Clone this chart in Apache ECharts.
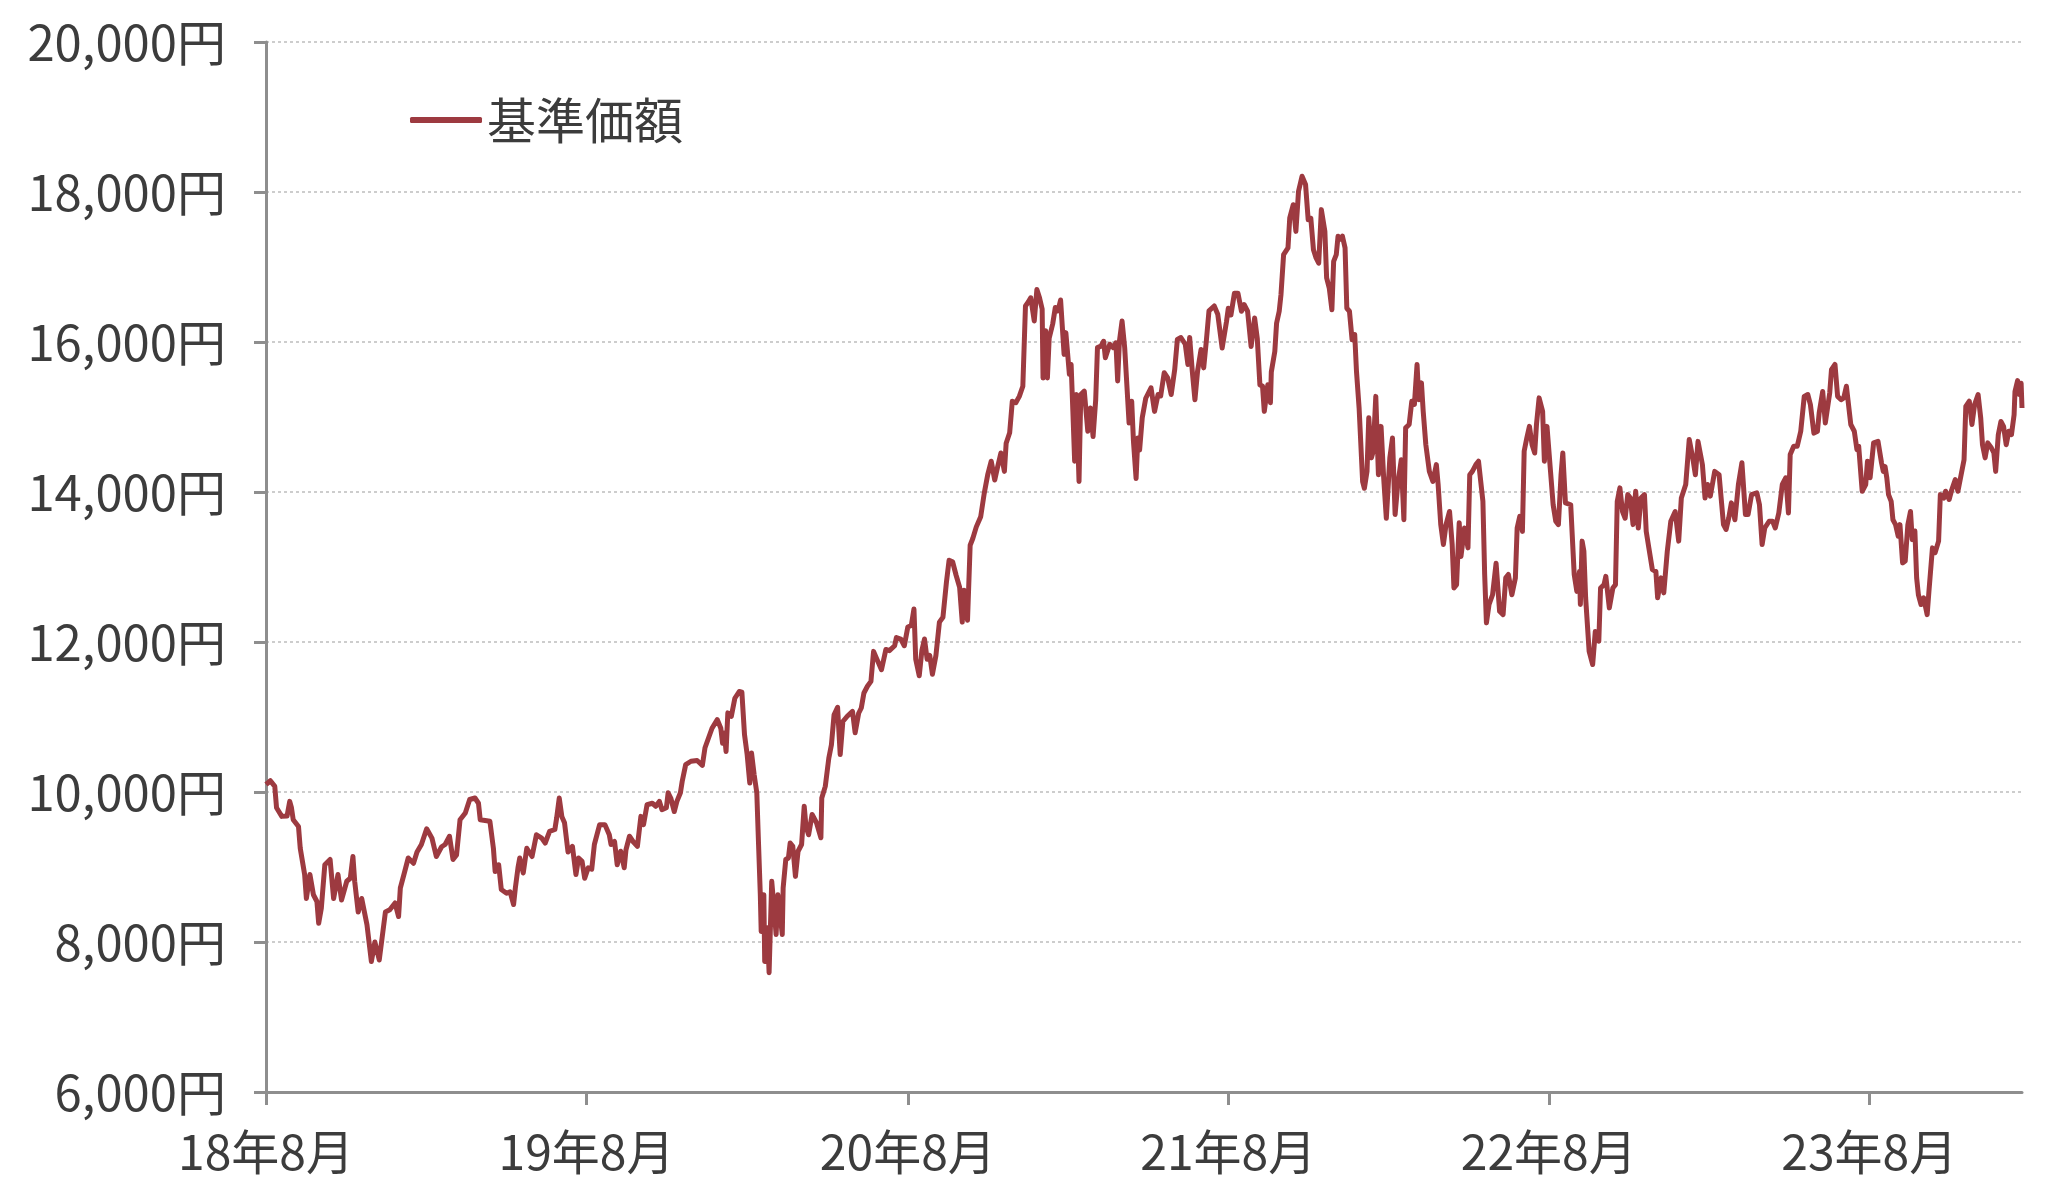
<!DOCTYPE html>
<html><head><meta charset="utf-8">
<script src="https://cdn.jsdelivr.net/npm/echarts@6/dist/echarts.min.js"></script>
<style>html,body{margin:0;padding:0;background:#fff}#c{width:2048px;height:1204px}</style>
</head><body><div id="c"></div>
<script>
const seriesName = '基準価額';
const dates = [
'2018-08-01','2018-08-06','2018-08-11','2018-08-13','2018-08-19','2018-08-25','2018-08-28','2018-08-30','2018-09-01','2018-09-07','2018-09-09','2018-09-14','2018-09-16','2018-09-20','2018-09-24','2018-09-28','2018-09-30','2018-10-03','2018-10-07','2018-10-13','2018-10-17','2018-10-22','2018-10-26','2018-11-01','2018-11-05','2018-11-08','2018-11-10','2018-11-14','2018-11-18','2018-11-24','2018-11-29','2018-12-03','2018-12-08','2018-12-15','2018-12-20','2018-12-26','2018-12-30',
'2019-01-01','2019-01-06','2019-01-10','2019-01-16','2019-01-20','2019-01-25','2019-01-31','2019-02-06','2019-02-11','2019-02-17','2019-02-21','2019-02-26','2019-03-02','2019-03-06','2019-03-10','2019-03-16','2019-03-21','2019-03-27','2019-03-31','2019-04-02','2019-04-13','2019-04-17','2019-04-19','2019-04-23','2019-04-26','2019-05-02','2019-05-06','2019-05-10','2019-05-12','2019-05-15','2019-05-17','2019-05-21','2019-05-25','2019-05-31','2019-06-05','2019-06-11','2019-06-15','2019-06-20','2019-06-26','2019-06-28','2019-07-01','2019-07-04','2019-07-07','2019-07-11',
'2019-07-16','2019-07-20','2019-07-23','2019-07-27','2019-07-30','2019-08-03','2019-08-07','2019-08-10','2019-08-16','2019-08-22','2019-08-27','2019-08-29','2019-09-02','2019-09-05','2019-09-09','2019-09-13','2019-09-15','2019-09-19','2019-09-23','2019-09-28','2019-10-02','2019-10-05','2019-10-09','2019-10-15','2019-10-19','2019-10-23','2019-10-26','2019-10-31','2019-11-02','2019-11-05','2019-11-09','2019-11-12','2019-11-16','2019-11-18','2019-11-22','2019-11-28','2019-12-05','2019-12-11','2019-12-14','2019-12-18','2019-12-22','2019-12-28',
'2020-01-01','2020-01-03','2020-01-05','2020-01-07','2020-01-09','2020-01-13','2020-01-17','2020-01-22','2020-01-25','2020-01-28','2020-01-31','2020-02-03','2020-02-05','2020-02-08','2020-02-11','2020-02-13','2020-02-15','2020-02-16','2020-02-19','2020-02-20','2020-02-23','2020-02-25','2020-02-28','2020-03-01','2020-03-04','2020-03-06','2020-03-11','2020-03-12','2020-03-15','2020-03-18','2020-03-20','2020-03-23','2020-03-26','2020-03-29','2020-04-02','2020-04-05','2020-04-07','2020-04-10','2020-04-14','2020-04-19','2020-04-24','2020-04-25','2020-04-29','2020-05-03','2020-05-06','2020-05-09','2020-05-13','2020-05-16','2020-05-19','2020-05-24','2020-05-30','2020-06-02','2020-06-06','2020-06-09','2020-06-12','2020-06-16','2020-06-20','2020-06-23','2020-06-27','2020-07-02','2020-07-07',
'2020-07-11','2020-07-17','2020-07-19','2020-07-24','2020-07-28','2020-08-01','2020-08-05','2020-08-08','2020-08-10','2020-08-14','2020-08-17','2020-08-20','2020-08-23','2020-08-26','2020-08-29','2020-09-02','2020-09-06','2020-09-10','2020-09-14','2020-09-17','2020-09-21','2020-09-25','2020-09-29','2020-10-02','2020-10-04','2020-10-08','2020-10-11','2020-10-14','2020-10-18','2020-10-23','2020-10-27','2020-10-31','2020-11-04','2020-11-08','2020-11-11','2020-11-15','2020-11-19','2020-11-21','2020-11-25','2020-11-28','2020-12-02','2020-12-06','2020-12-10','2020-12-13','2020-12-16','2020-12-19','2020-12-23','2020-12-26','2020-12-29',
'2021-01-01','2021-01-02','2021-01-05','2021-01-07','2021-01-09','2021-01-13','2021-01-16','2021-01-19','2021-01-22','2021-01-26','2021-01-28','2021-02-01','2021-02-03','2021-02-05','2021-02-07','2021-02-09','2021-02-12','2021-02-14','2021-02-18','2021-02-22','2021-02-25','2021-02-28','2021-03-03','2021-03-05','2021-03-09','2021-03-12','2021-03-14','2021-03-19','2021-03-23','2021-03-26','2021-03-28','2021-03-30','2021-04-02','2021-04-05','2021-04-10','2021-04-13','2021-04-15','2021-04-18','2021-04-20','2021-04-22','2021-04-25','2021-04-29','2021-05-05','2021-05-09','2021-05-13','2021-05-16','2021-05-20','2021-05-24','2021-05-28','2021-06-01','2021-06-04','2021-06-08','2021-06-13','2021-06-16','2021-06-18','2021-06-21','2021-06-24','2021-06-27','2021-07-01','2021-07-04','2021-07-07','2021-07-10','2021-07-16','2021-07-20',
'2021-07-25','2021-07-30','2021-08-01','2021-08-04','2021-08-08','2021-08-12','2021-08-16','2021-08-19','2021-08-23','2021-08-27','2021-08-31','2021-09-03','2021-09-06','2021-09-09','2021-09-11','2021-09-15','2021-09-18','2021-09-19','2021-09-23','2021-09-25','2021-09-28','2021-09-30','2021-10-03','2021-10-08','2021-10-10','2021-10-14','2021-10-17','2021-10-20','2021-10-24','2021-10-28','2021-10-31','2021-11-03','2021-11-06','2021-11-09','2021-11-12','2021-11-15','2021-11-19','2021-11-21','2021-11-24','2021-11-27','2021-11-29','2021-12-02','2021-12-04','2021-12-06','2021-12-09','2021-12-12','2021-12-14','2021-12-17','2021-12-20','2021-12-23','2021-12-25','2021-12-28',
'2022-01-01','2022-01-03','2022-01-06','2022-01-08','2022-01-11','2022-01-13','2022-01-16','2022-01-19','2022-01-22','2022-01-25','2022-01-28','2022-01-30','2022-02-01','2022-02-04','2022-02-07','2022-02-10','2022-02-14','2022-02-17','2022-02-19','2022-02-23','2022-02-26','2022-03-01','2022-03-04','2022-03-06','2022-03-09','2022-03-11','2022-03-14','2022-03-18','2022-03-22','2022-03-26','2022-03-28','2022-03-31','2022-04-03','2022-04-06','2022-04-10','2022-04-13','2022-04-15','2022-04-18','2022-04-21','2022-04-23','2022-04-27','2022-05-01','2022-05-03','2022-05-06','2022-05-10','2022-05-13','2022-05-18','2022-05-20','2022-05-22','2022-05-25','2022-05-29','2022-06-02','2022-06-06','2022-06-10','2022-06-13','2022-06-16','2022-06-20','2022-06-24','2022-06-26','2022-06-29','2022-07-02','2022-07-04','2022-07-07','2022-07-10','2022-07-13','2022-07-16','2022-07-18',
'2022-07-21','2022-07-25','2022-07-27','2022-07-30','2022-08-03','2022-08-06','2022-08-09','2022-08-12','2022-08-15','2022-08-17','2022-08-20','2022-08-26','2022-08-30','2022-09-02','2022-09-05','2022-09-06','2022-09-08','2022-09-10','2022-09-12','2022-09-16','2022-09-20','2022-09-23','2022-09-27','2022-09-29','2022-10-03','2022-10-05','2022-10-09','2022-10-13','2022-10-16','2022-10-18','2022-10-21','2022-10-24','2022-10-27','2022-10-30','2022-11-02','2022-11-05','2022-11-08','2022-11-11','2022-11-14','2022-11-18','2022-11-20','2022-11-23','2022-11-27','2022-12-01','2022-12-03','2022-12-07','2022-12-10','2022-12-14','2022-12-18','2022-12-23','2022-12-27','2022-12-30',
'2023-01-04','2023-01-08','2023-01-12','2023-01-15','2023-01-18','2023-01-23','2023-01-26','2023-01-29','2023-02-01','2023-02-06','2023-02-11','2023-02-16','2023-02-19','2023-02-22','2023-02-25','2023-03-01','2023-03-05','2023-03-09','2023-03-13','2023-03-16','2023-03-20','2023-03-26','2023-03-29','2023-04-01','2023-04-04','2023-04-09','2023-04-13','2023-04-16','2023-04-20','2023-04-24','2023-04-28','2023-05-01','2023-05-03','2023-05-07','2023-05-11','2023-05-15','2023-05-19','2023-05-23','2023-05-26','2023-05-30','2023-06-03','2023-06-05','2023-06-09','2023-06-12','2023-06-14','2023-06-17','2023-06-19','2023-06-23','2023-06-26','2023-06-30','2023-07-03','2023-07-06','2023-07-11','2023-07-15','2023-07-18',
'2023-07-20','2023-07-24','2023-07-28','2023-07-30','2023-08-02','2023-08-06','2023-08-11','2023-08-15','2023-08-17','2023-08-19','2023-08-21','2023-08-23','2023-08-26','2023-08-28','2023-08-31','2023-09-03','2023-09-05','2023-09-08','2023-09-11','2023-09-14','2023-09-17','2023-09-19','2023-09-22','2023-09-24','2023-09-26','2023-09-29','2023-10-02','2023-10-06','2023-10-08','2023-10-12','2023-10-15','2023-10-19','2023-10-21','2023-10-25','2023-10-27','2023-10-31','2023-11-03','2023-11-07','2023-11-10','2023-11-13','2023-11-17','2023-11-19','2023-11-23','2023-11-26','2023-11-29','2023-12-03','2023-12-06','2023-12-08','2023-12-11','2023-12-14','2023-12-18','2023-12-21','2023-12-23','2023-12-26','2023-12-29',
'2024-01-01','2024-01-04','2024-01-07','2024-01-10','2024-01-13','2024-01-14','2024-01-17','2024-01-19','2024-01-21','2024-01-22'
];
const values = [
10100,10150,10075,9790,9675,9680,9875,9790,9630,9540,9250,8900,8580,8900,8630,8540,8250,8450,9030,9100,8580,8900,8560,8810,8850,9140,8810,8400,8580,8230,7740,8000,7760,8400,8430,8520,8340,
8720,8940,9120,9050,9200,9300,9510,9385,9140,9270,9300,9410,9100,9160,9630,9720,9900,9920,9850,9630,9610,9250,8940,9030,8700,8650,8670,8500,8720,8990,9120,8920,9250,9140,9430,9385,9320,9475,9500,9650,9920,9670,9590,9200,
9275,8900,9120,9075,8850,8990,8970,9300,9565,9565,9430,9300,9340,9030,9210,8990,9230,9410,9340,9275,9675,9565,9830,9850,9810,9875,9765,9790,9990,9920,9740,9875,9990,10140,10365,10410,10420,10355,10590,10720,10850,10965,
10850,10650,10785,10540,11055,11010,11250,11340,11330,10765,10500,10120,10520,10230,9990,9300,8630,8140,8630,7740,8190,7590,8810,8540,8100,8630,8100,8720,9100,9120,9320,9275,8875,9210,9300,9810,9540,9430,9700,9590,9390,9920,10075,10450,10630,11030,11130,10500,10940,11010,11075,10790,11050,11120,11320,11410,11475,11875,11765,11630,11900,
11885,11950,12060,12040,11950,12200,12220,12440,11770,11550,11885,12040,11770,11820,11570,11820,12265,12330,12800,13090,13070,12890,12730,12265,12690,12290,13290,13380,13535,13670,13980,14230,14410,14160,14320,14520,14275,14650,14790,15210,15190,15275,15410,16480,16530,16590,16280,16700,16590,
16440,15520,16150,15520,16050,16240,16460,16415,16560,15835,16125,15570,15700,15075,14410,15300,14140,15300,15345,14810,15120,14740,15230,15925,15945,16010,15790,15970,15925,15990,15480,16010,16280,15925,14920,15210,14675,14180,14720,14560,14990,15250,15390,15075,15300,15280,15590,15520,15300,15635,16035,16060,15970,15700,16060,15610,15230,15610,15900,15655,16015,16415,16480,16370,
15920,16275,16450,16360,16650,16650,16410,16500,16410,15940,16320,16050,15430,15410,15075,15430,15190,15600,15875,16250,16410,16630,17165,17255,17655,17830,17475,18010,18210,18100,17630,17650,17230,17120,17050,17765,17475,16855,16720,16430,17075,17165,17410,17370,17410,17255,16450,16410,16030,16100,15610,15120,
14140,14050,14275,14990,14455,14540,15275,14230,14875,14185,13650,13630,14455,14720,13700,14100,14430,13630,14855,14900,15210,15170,15700,15230,15455,15075,14630,14275,14140,14365,14100,13565,13300,13565,13740,13300,12720,12765,13590,13140,13520,13255,14230,14275,14365,14410,13875,12900,12255,12500,12630,13050,12410,12365,12855,12900,12630,12855,13520,13675,13475,14545,14720,14875,14630,14520,14900,
15255,15075,14410,14875,14275,13830,13610,13565,14230,14520,13855,13830,12900,12675,12940,12500,13345,13210,12590,11875,11700,12140,12010,12720,12765,12875,12455,12720,12765,13875,14055,13740,13650,13965,13920,13565,14010,13520,13920,13965,13475,13255,12965,12940,12590,12855,12655,13210,13610,13740,13345,13920,
14100,14700,14455,14230,14675,14365,13920,14100,13945,14275,14230,13565,13500,13655,13855,13630,14100,14390,13700,13700,13965,13990,13830,13300,13520,13610,13610,13520,13720,14100,14190,13720,14500,14610,14610,14810,15275,15300,15165,14785,14810,15055,15340,14920,14920,15320,15630,15700,15275,15230,15255,15410,14900,14810,14565,
14610,14010,14100,14410,14190,14655,14675,14390,14275,14340,14190,13965,13875,13630,13565,13410,13565,13055,13080,13565,13740,13365,13480,12855,12630,12500,12590,12365,12675,13255,13190,13345,13965,13920,14010,13900,14030,14165,14010,14190,14430,15140,15210,14900,15165,15300,14985,14630,14455,14655,14590,14520,14275,14765,14940,
14875,14630,14810,14765,15030,15340,15485,15300,15450,15120
];
const xTickDates = ['2018-08-01','2019-08-01','2020-08-01','2021-08-01','2022-08-01','2023-08-01'];
const yMin = 6000, yMax = 20000, yStep = 2000;

const DAY = 86400000;
const base = Date.parse(dates[0]);
const toDay = d => (Date.parse(d) - base) / DAY;
const points = dates.map((d, i) => [toDay(d), values[i]]);
const tickDays = xTickDates.map(toDay);
const lastDay = toDay(dates[dates.length - 1]);

const FONT = '"Noto Sans CJK JP", "Noto Sans", sans-serif';
const TXT = '#3c3c3c';
const AXIS = '#8e8e8e';
const LINE = '#9d3a40';

const chart = echarts.init(document.getElementById('c'), null, {renderer: 'canvas'});
chart.setOption({
  animation: false,
  backgroundColor: '#ffffff',
  grid: {left: 266, right: 26, top: 42, bottom: 112, containLabel: false},
  legend: {
    data: [seriesName],
    left: 405, top: 86,
    icon: 'roundRect', itemWidth: 72, itemHeight: 6,
    textStyle: {fontFamily: FONT, fontSize: 49, color: TXT, lineHeight: 58}
  },
  xAxis: {
    type: 'value', min: 0, max: lastDay, interval: 365.25,
    axisLine: {show: true, lineStyle: {color: AXIS, width: 3}},
    axisTick: {show: true, length: 13, lineStyle: {color: AXIS, width: 3}, customValues: tickDays},
    axisLabel: {
      show: true, margin: 36, fontFamily: FONT, fontSize: 48, color: TXT,
      customValues: tickDays, showMaxLabel: true,
      formatter: v => {
        const dt = new Date(base + v * DAY + DAY / 2);
        if (dt.getUTCMonth() !== 7) return '';
        return String(dt.getUTCFullYear() % 100) + '年8月';
      }
    },
    splitLine: {show: false}
  },
  yAxis: {
    type: 'value', min: yMin, max: yMax, interval: yStep,
    axisLine: {show: true, lineStyle: {color: AXIS, width: 3}},
    axisTick: {show: true, length: 12, lineStyle: {color: AXIS, width: 3}},
    axisLabel: {
      margin: 40, fontFamily: FONT, fontSize: 49, color: TXT,
      formatter: v => String(v).replace(/\B(?=(\d{3})+(?!\d))/g, ',') + '円'
    },
    splitLine: {show: true, lineStyle: {color: '#cdcdcd', width: 2, type: [3, 3]}}
  },
  series: [{
    name: seriesName, type: 'line', data: points,
    showSymbol: false, symbol: 'none',
    lineStyle: {color: LINE, width: 5, join: 'round'},
    itemStyle: {color: LINE}
  }]
});
</script></body></html>
